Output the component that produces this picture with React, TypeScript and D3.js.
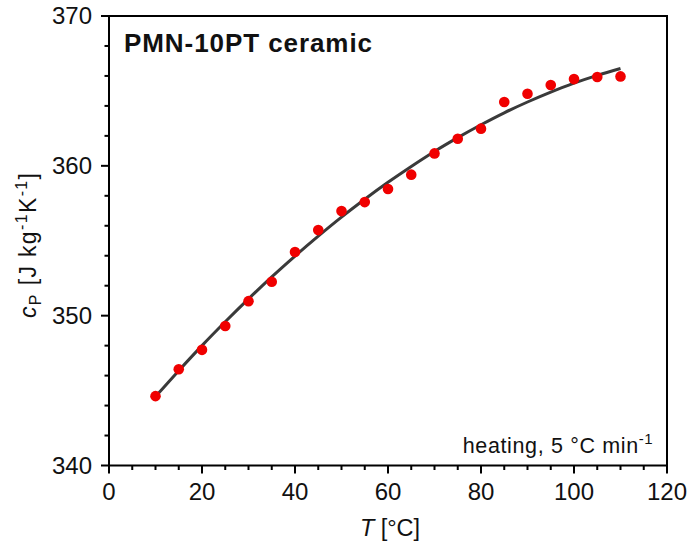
import React from "react";
import * as d3 from "d3";

const temps = [10, 15, 20, 25, 30, 35, 40, 45, 50, 55, 60, 65, 70, 75, 80, 85, 90, 95, 100, 105, 110];
const cpMeasured = [344.63, 346.42, 347.72, 349.31, 350.97, 352.26, 354.25, 355.71, 356.98, 357.58, 358.45, 359.41, 360.83, 361.81, 362.48, 364.26, 364.81, 365.39, 365.79, 365.93, 365.97];
const cpFit = [344.6, 346.33, 348.0, 349.59, 351.12, 352.59, 353.98, 355.31, 356.58, 357.77, 358.9, 359.96, 360.96, 361.88, 362.74, 363.54, 364.26, 364.92, 365.52, 366.04, 366.5];
const xTicks = [0, 20, 40, 60, 80, 100, 120];
const yTicks = [340, 350, 360, 370];

const W = 690, H = 544;
const L = 109, R = 667, T = 16, B = 465.5;
const FONT = "'Liberation Sans', Arial, sans-serif";

export default function App() {
  const x = d3.scaleLinear().domain([0, 120]).range([L, R]);
  const y = d3.scaleLinear().domain([340, 370]).range([B, T]);
  const xMinor = d3.range(0, 121, 5).filter((v) => v % 20 !== 0);
  const yMinor = d3.range(340, 371, 2).filter((v) => v % 10 !== 0);
  const line = d3
    .line<number>()
    .x((_, i) => x(temps[i]))
    .y((d) => y(d))
    .curve(d3.curveMonotoneX);

  return (
    <svg width={W} height={H} style={{ position: "absolute", left: 0, top: 0, background: "#fff" }} fontFamily={FONT}>
      <rect x={0} y={0} width={W} height={H} fill="#fff" />
      {/* fit line */}
      <path d={line(cpFit) || ""} fill="none" stroke="#3a3a3a" strokeWidth={3} />
      {/* points */}
      {cpMeasured.map((v, i) => (
        <circle key={i} cx={x(temps[i])} cy={y(v)} r={5.3} fill="#f00000" />
      ))}
      {/* frame */}
      <rect x={L} y={T} width={R - L} height={B - T} fill="none" stroke="#000" strokeWidth={2} />
      {/* x ticks */}
      {xTicks.map((v) => (
        <g key={"x" + v}>
          <line x1={x(v)} x2={x(v)} y1={B} y2={B + 8} stroke="#000" strokeWidth={2} />
          <text x={x(v)} y={500} textAnchor="middle" fontSize={24} fill="#111">
            {v}
          </text>
        </g>
      ))}
      {xMinor.map((v) => (
        <line key={"xm" + v} x1={x(v)} x2={x(v)} y1={B} y2={B + 4.5} stroke="#000" strokeWidth={2} />
      ))}
      {/* y ticks */}
      {yTicks.map((v) => (
        <g key={"y" + v}>
          <line x1={L - 8} x2={L} y1={y(v)} y2={y(v)} stroke="#000" strokeWidth={2} />
          <text x={92} y={y(v) + 8.3} textAnchor="end" fontSize={24} fill="#111">
            {v}
          </text>
        </g>
      ))}
      {yMinor.map((v) => (
        <line key={"ym" + v} x1={L - 4.5} x2={L} y1={y(v)} y2={y(v)} stroke="#000" strokeWidth={2} />
      ))}
      {/* axis titles */}
      <text x={390} y={536} textAnchor="middle" fontSize={23.5} fill="#111" textLength={60} lengthAdjust="spacing">
        <tspan fontStyle="italic">T</tspan> [°C]
      </text>
      <text
        transform={`translate(36, 245.5) rotate(-90)`}
        textAnchor="middle"
        fontSize={23}
        fill="#111"
        textLength={145}
        lengthAdjust="spacing"
      >
        <tspan fontStyle="italic">c</tspan>
        <tspan fontSize={16} dy={5}>P</tspan>
        <tspan dy={-5}> [J kg</tspan>
        <tspan fontSize={16} dy={-9}>-1</tspan>
        <tspan dy={9}>K</tspan>
        <tspan fontSize={16} dy={-9}>-1</tspan>
        <tspan dy={9}>]</tspan>
      </text>
      {/* annotations */}
      <text x={124} y={52} fontSize={26} fontWeight="bold" fill="#111" textLength={248} lengthAdjust="spacing">
        PMN-10PT ceramic
      </text>
      <text x={462.7} y={453.3} fontSize={21.5} fill="#111" textLength={190} lengthAdjust="spacing">
        heating, 5 °C min<tspan fontSize={15} dy={-9}>-1</tspan>
      </text>
    </svg>
  );
}
